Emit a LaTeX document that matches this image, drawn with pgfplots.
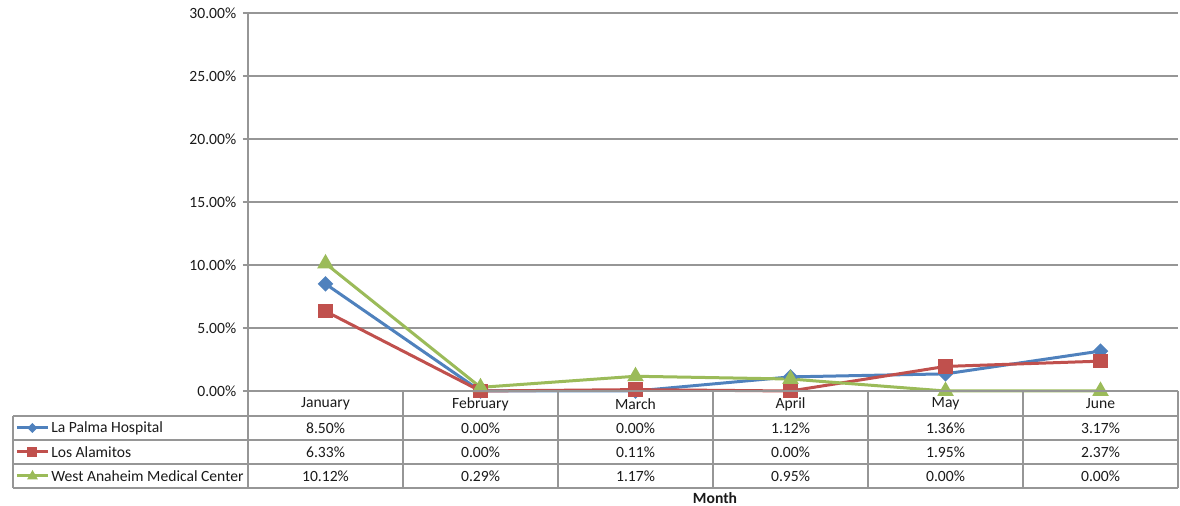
\documentclass[border=0pt]{standalone}
\usepackage{pgfplots}
\pgfplotsset{compat=1.18}
\usepackage{fontspec}
\setmainfont{Carlito}
\definecolor{cblue}{HTML}{4F81BD}
\definecolor{cred}{HTML}{C0504D}
\definecolor{cgreen}{HTML}{9BBB59}
\definecolor{cgrid}{HTML}{969696}
\definecolor{ctext}{HTML}{1A1A1A}
\newcommand{\tfont}{\fontsize{11.7}{13}\selectfont}
\begin{document}
\tfont
\begin{tikzpicture}
\begin{axis}[scale only axis,
  width=697.5pt, height=283.5pt,
  xmin=-0.5, xmax=5.5, ymin=0, ymax=30,
  axis x line=none, axis y line=left,
  y axis line style={cgrid, line width=1pt, -},
  ytick={0,5,10,15,20,25,30},
  yticklabels={0.00\%,5.00\%,10.00\%,15.00\%,20.00\%,25.00\%,30.00\%},
  yticklabel style={font=\tfont, text=ctext, xshift=-1pt},
  tick align=outside, major tick length=3.75pt,
  ytick style={cgrid, line width=1pt},
  xtick=\empty,
  ymajorgrids, grid style={cgrid, line width=1pt},
  clip=false,
  every axis plot/.append style={line width=2.25pt}]
\addplot[cblue, mark=square*, mark size=3pt, mark options={rotate=45}] coordinates {(0,8.50) (1,0.00) (2,0.00) (3,1.12) (4,1.36) (5,3.17)};
\addplot[cred, mark=square*, mark size=4.3pt] coordinates {(0,6.33) (1,0.00) (2,0.11) (3,0.00) (4,1.95) (5,2.37)};
\addplot[cgreen, mark=triangle*, mark size=4.9pt] coordinates {(0,10.12) (1,0.29) (2,1.17) (3,0.95) (4,0.00) (5,0.00)};
\coordinate (SW) at (rel axis cs:0,0);
\end{axis}
\begin{scope}[shift={(SW)}, x=0.75pt, y=-0.75pt, xshift=-186pt, yshift=293.25pt]
% data table grid
\begin{scope}[cgrid, line width=1pt]
\draw (243,391) -- (1178,391);
\draw (13,416) -- (1178,416);
\draw (13,440) -- (1178,440);
\draw (13,464) -- (1178,464);
\draw (13,488) -- (1178,488);
\draw (13,416) -- (13,488);
\draw (248,391) -- (248,488);
\foreach \xx in {403,558,713,868,1023,1178} \draw (\xx,391) -- (\xx,488);
\end{scope}
\begin{scope}[text=ctext]
\foreach \lab [count=\i from 0] in {January,February,March,April,May,June}
  \node at (325.5+155*\i,404) {\lab};
\foreach \lab [count=\i from 0] in {8.50\%,0.00\%,0.00\%,1.12\%,1.36\%,3.17\%}
  \node at (325.5+155*\i,428) {\lab};
\foreach \lab [count=\i from 0] in {6.33\%,0.00\%,0.11\%,0.00\%,1.95\%,2.37\%}
  \node at (325.5+155*\i,452) {\lab};
\foreach \lab [count=\i from 0] in {10.12\%,0.29\%,1.17\%,0.95\%,0.00\%,0.00\%}
  \node at (325.5+155*\i,476) {\lab};
\node[anchor=west, inner sep=0pt] at (51,428) {La Palma Hospital};
\node[anchor=west, inner sep=0pt] at (51,452) {Los Alamitos};
\node[anchor=west, inner sep=0pt] at (51,476) {West Anaheim Medical Center};
\node[font=\bfseries\tfont] at (715,498.5) {Month};
\end{scope}
% legend keys
\draw[cblue, line width=2.25pt] (17,428) -- (48,428);
\fill[cblue] (32.5,423) -- (37.5,428) -- (32.5,433) -- (27.5,428) -- cycle;
\draw[cred, line width=2.25pt] (17,452) -- (48,452);
\fill[cred] (27.5,447) rectangle (37.5,457);
\draw[cgreen, line width=2.25pt] (17,476) -- (48,476);
\fill[cgreen] (32.5,470) -- (38,479.5) -- (27,479.5) -- cycle;
\pgfresetboundingbox
\path[use as bounding box] (0,0) rectangle (1180,506);
\end{scope}
\end{tikzpicture}
\end{document}
